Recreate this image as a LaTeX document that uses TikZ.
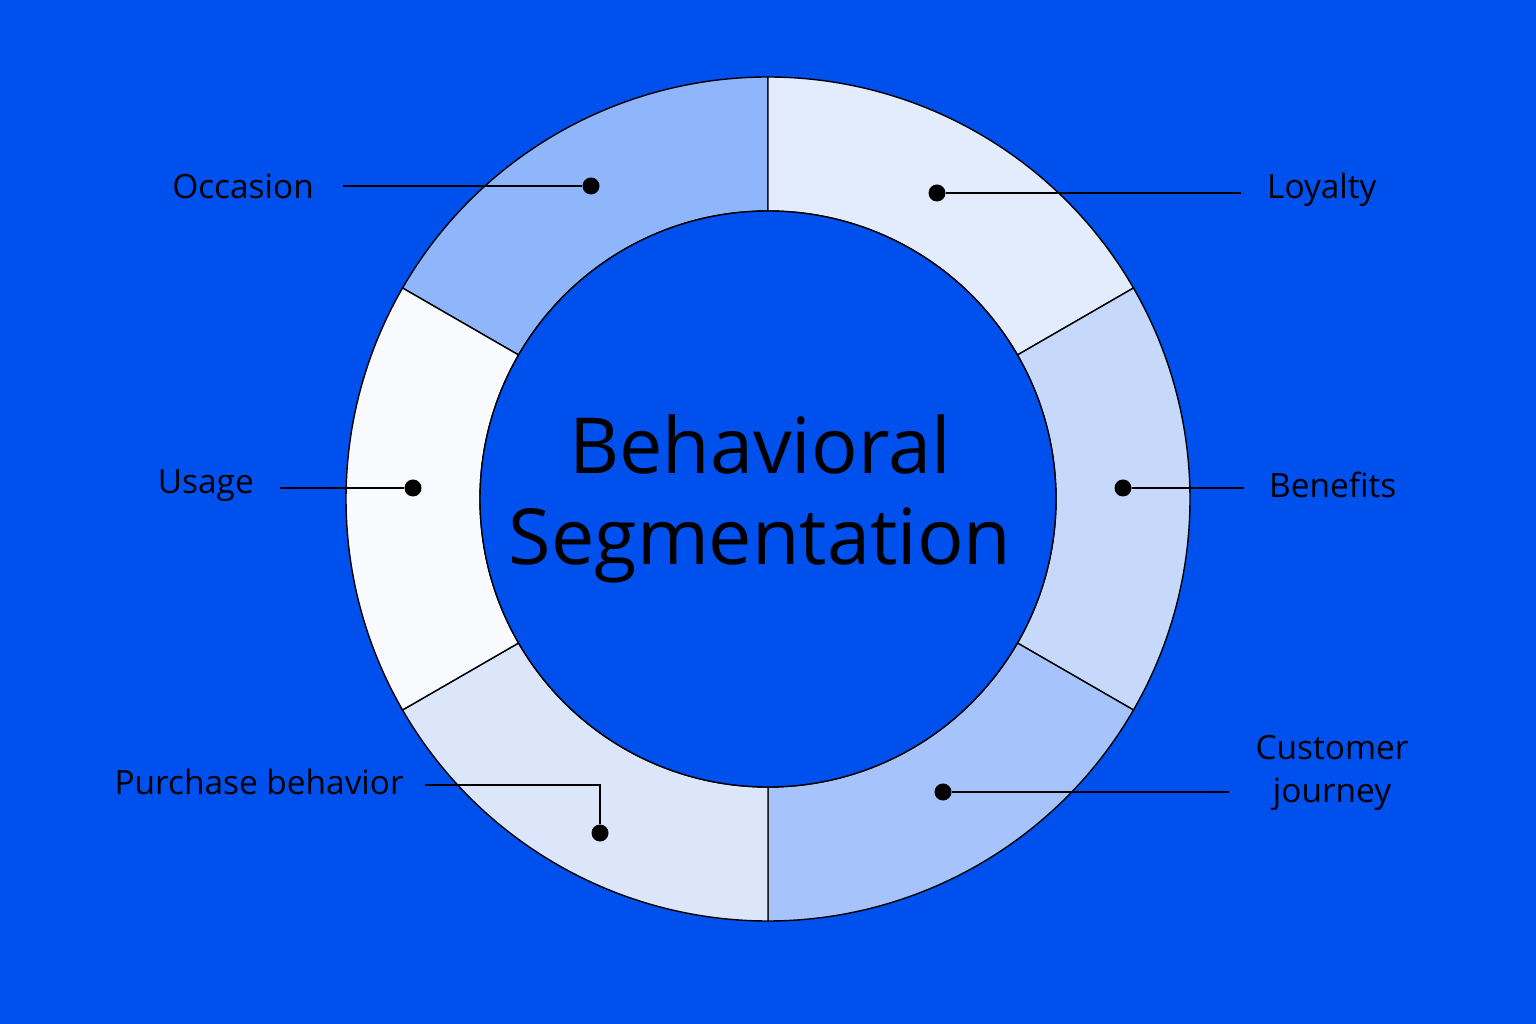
\documentclass[tikz,border=0pt]{standalone}
\usepackage{fontspec}
\setmainfont{Open Sans}
\usetikzlibrary{positioning}
\definecolor{bgblue}{HTML}{0050EE}
\definecolor{segA}{HTML}{8FB5FA}
\definecolor{segB}{HTML}{E3ECFD}
\definecolor{segC}{HTML}{C6D9FB}
\definecolor{segD}{HTML}{A6C4FB}
\definecolor{segE}{HTML}{DCE6FB}
\definecolor{segF}{HTML}{F8FAFE}
\tikzset{
  dot/.style={circle, fill=black, inner sep=0pt, minimum size=0.17cm},
  lbl/.style={font=\fontsize{9.5}{12}\selectfont, text=black, inner sep=1pt},
  seg/.style={draw=black, line width=0.4pt}
}
\begin{document}
\begin{tikzpicture}[x=0.01cm, y=0.01cm]
\fill[bgblue] (0,0) rectangle (1536,1024);
\useasboundingbox (0,0) rectangle (1536,1024);

% ring segments
\foreach \a/\c in {90/segA, 30/segB, -30/segC, -90/segD, -150/segE, 150/segF}{
  \draw[seg, fill=\c] (768,525) ++(\a:422) arc[start angle=\a, delta angle=60, radius=422]
    -- ++(\a+60:-134) arc[start angle=\a+60, delta angle=-60, radius=288] -- cycle;
}
\draw[seg, fill=bgblue] (768,525) circle[radius=288];

\node[font=\fontsize{22}{26}\selectfont, align=center] (title) at (760,525) {Behavioral\\Segmentation};

% dots
\node[dot] (dOcc) at (591,838) {};
\node[dot] (dLoy) at (937,831) {};
\node[dot] (dUse) at (413,536) {};
\node[dot] (dBen) at (1123,536) {};
\node[dot] (dCus) at (943,232) {};
\node[dot] (dPur) at (600,191) {};

% labels
\node[lbl, anchor=east] (lOcc) at (318,838) {Occasion};
\node[lbl, anchor=west] (lLoy) at (1263,834) {Loyalty};
\node[lbl, anchor=east] (lUse) at (258,538) {Usage};
\node[lbl, anchor=west] (lBen) at (1265,539) {Benefits};
\node[lbl, align=center] (lCus) at (1332,251) {Customer\\journey};
\node[lbl, anchor=east] (lPur) at (408,242) {Purchase behavior};

% connector ends
\coordinate (eOcc) at (343,838);
\coordinate (eLoy) at (1241,831);
\coordinate (eUse) at (280,536);
\coordinate (eBen) at (1244,536);
\coordinate (eCus) at (1229,232);
\coordinate (ePur) at (425,239);

% connectors
\draw (dOcc) -- (eOcc);
\draw (dLoy) -- (eLoy);
\draw (dUse) -- (eUse);
\draw (dBen) -- (eBen);
\draw (dCus) -- (eCus);
\draw (dPur) |- (ePur);
\end{tikzpicture}
\end{document}
